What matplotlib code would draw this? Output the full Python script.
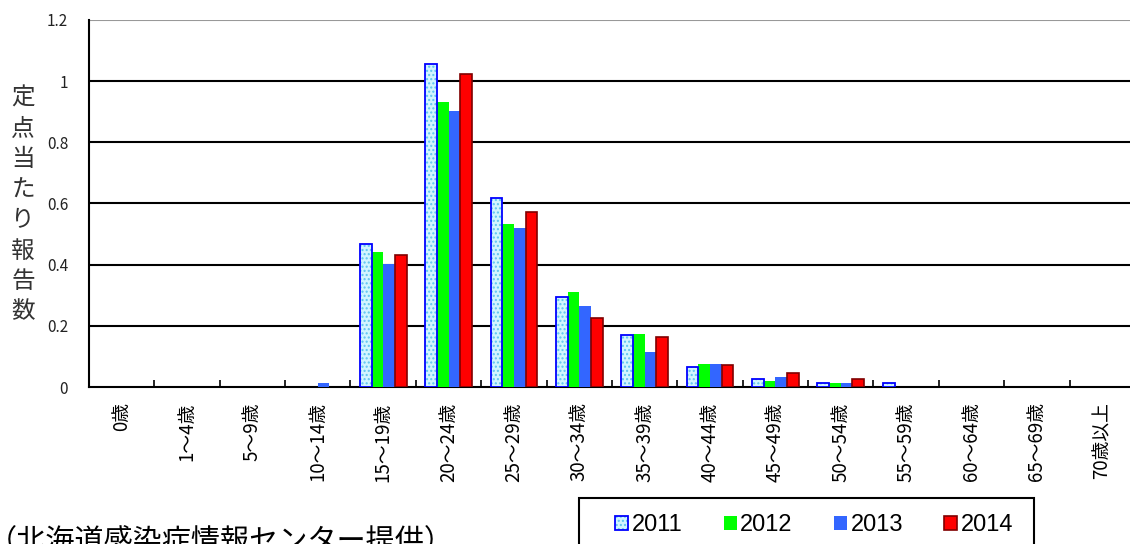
import matplotlib
matplotlib.use("Agg")
import matplotlib.pyplot as plt
from matplotlib.patches import Patch, Rectangle
from matplotlib.legend_handler import HandlerTuple
import numpy as np

plt.rcParams["font.family"] = ["Noto Sans CJK JP", "DejaVu Sans"]

# Data
age_groups = ["0歳", "1～4歳", "5～9歳", "10～14歳", "15～19歳", "20～24歳",
              "25～29歳", "30～34歳", "35～39歳", "40～44歳", "45～49歳",
              "50～54歳", "55～59歳", "60～64歳", "65～69歳", "70歳以上"]
years = ["2011", "2012", "2013", "2014"]
v2011 = [0, 0, 0, 0, 0.467, 1.056, 0.617, 0.295, 0.170, 0.065, 0.026, 0.012, 0.012, 0, 0, 0]
v2012 = [0, 0, 0, 0, 0.443, 0.933, 0.534, 0.310, 0.172, 0.074, 0.020, 0.013, 0, 0, 0, 0]
v2013 = [0, 0, 0, 0.014, 0.402, 0.901, 0.521, 0.265, 0.113, 0.074, 0.034, 0.013, 0, 0, 0, 0]
v2014 = [0, 0, 0, 0, 0.433, 1.023, 0.571, 0.225, 0.164, 0.073, 0.046, 0.026, 0, 0, 0, 0]
y_label = "定点当たり報告数"
source_note = "（北海道感染症情報センター提供）"

W, H = 1130, 544
fig = plt.figure(figsize=(W / 100, H / 100), dpi=100)
ax = fig.add_axes([89 / W, 157 / H, 1046 / W, 367 / H])

x = np.arange(len(age_groups))
bw = 0.1785
offs = (np.arange(4) - 1.5) * bw


def nonzero(vals, off):
    v = np.array(vals)
    keep = v > 0
    return x[keep] + off, v[keep]


# 2011: dotted light-cyan fill with blue outline
px, pv = nonzero(v2011, offs[0])
ax.bar(px, pv, bw, color="#d2f5ff", edgecolor="#5ec4f0",
       linewidth=0, hatch="....", zorder=3)
ax.bar(px, pv, bw, fill=False, edgecolor="#0000ff", linewidth=1.3, zorder=4)
px, pv = nonzero(v2012, offs[1])
ax.bar(px, pv, bw, color="#00ff00", linewidth=0, zorder=3)
px, pv = nonzero(v2013, offs[2])
ax.bar(px, pv, bw, color="#3366ff", linewidth=0, zorder=3)
px, pv = nonzero(v2014, offs[3])
ax.bar(px, pv, bw, color="#ff0000", edgecolor="#800000", linewidth=1.2, zorder=3)

ax.set_xlim(-0.5, len(age_groups) - 0.5)
ax.set_ylim(0, 1.2)
ax.set_yticks([0, 0.2, 0.4, 0.6, 0.8, 1.0, 1.2])
ax.set_yticklabels(["0", "0.2", "0.4", "0.6", "0.8", "1", "1.2"])
ax.tick_params(axis="y", length=0, pad=15, labelsize=11, labelcolor="#222222")

for yv in [0.2, 0.4, 0.6, 0.8, 1.0]:
    ax.axhline(yv, color="black", linewidth=1.5, zorder=1)
ax.axhline(1.2, color="#999999", linewidth=1.5, zorder=1)

ax.set_xticks(x)
ax.set_xticklabels(age_groups, rotation=90, va="top", ha="center")
ax.tick_params(axis="x", which="major", length=0, pad=11, labelsize=13.5)
ax.set_xticks(np.arange(len(age_groups) - 1) + 0.5, minor=True)
ax.tick_params(axis="x", which="minor", direction="in", length=5,
               width=1.2, color="black")

for s in ["top", "right"]:
    ax.spines[s].set_visible(False)
ax.spines["left"].set_linewidth(1.5)
ax.spines["bottom"].set_linewidth(1.5)

# Vertical y-axis label, one character per line
for i, ch in enumerate(y_label):
    fig.text(23 / W, 1 - (98.5 + i * 30.5) / H, ch, ha="center", va="center",
             fontsize=17, color="#333333")

# Source note (cut at the bottom-left, as in the original)
fig.text(-12 / W, 1 - 542 / H, source_note, ha="left", va="center",
         fontsize=21, color="black")

# Legend with a plain box
fig.patches.append(Rectangle((579 / W, -10 / H), 455 / W, 56 / H,
                             transform=fig.transFigure, fill=False,
                             edgecolor="black", linewidth=1.5))
h2011 = (Patch(facecolor="#d2f5ff", edgecolor="#5ec4f0", linewidth=0, hatch="...."),
         Patch(fill=False, edgecolor="#0000ff", linewidth=1.3))
h2012 = Patch(facecolor="#00ff00", linewidth=0)
h2013 = Patch(facecolor="#3366ff", linewidth=0)
h2014 = Patch(facecolor="#ff0000", edgecolor="#800000", linewidth=1.2)
fig.legend([h2011, h2012, h2013, h2014], years, ncol=4, frameon=False,
           loc="center left", bbox_to_anchor=(615 / W, 1 - 525 / H),
           handler_map={tuple: HandlerTuple(ndivide=1, pad=0)},
           handlelength=0.55, handleheight=0.55, handletextpad=0.15,
           columnspacing=1.75, borderpad=0, borderaxespad=0,
           prop={"family": ["Liberation Sans", "DejaVu Sans"], "size": 17})

fig.savefig("out.png", dpi=100)
